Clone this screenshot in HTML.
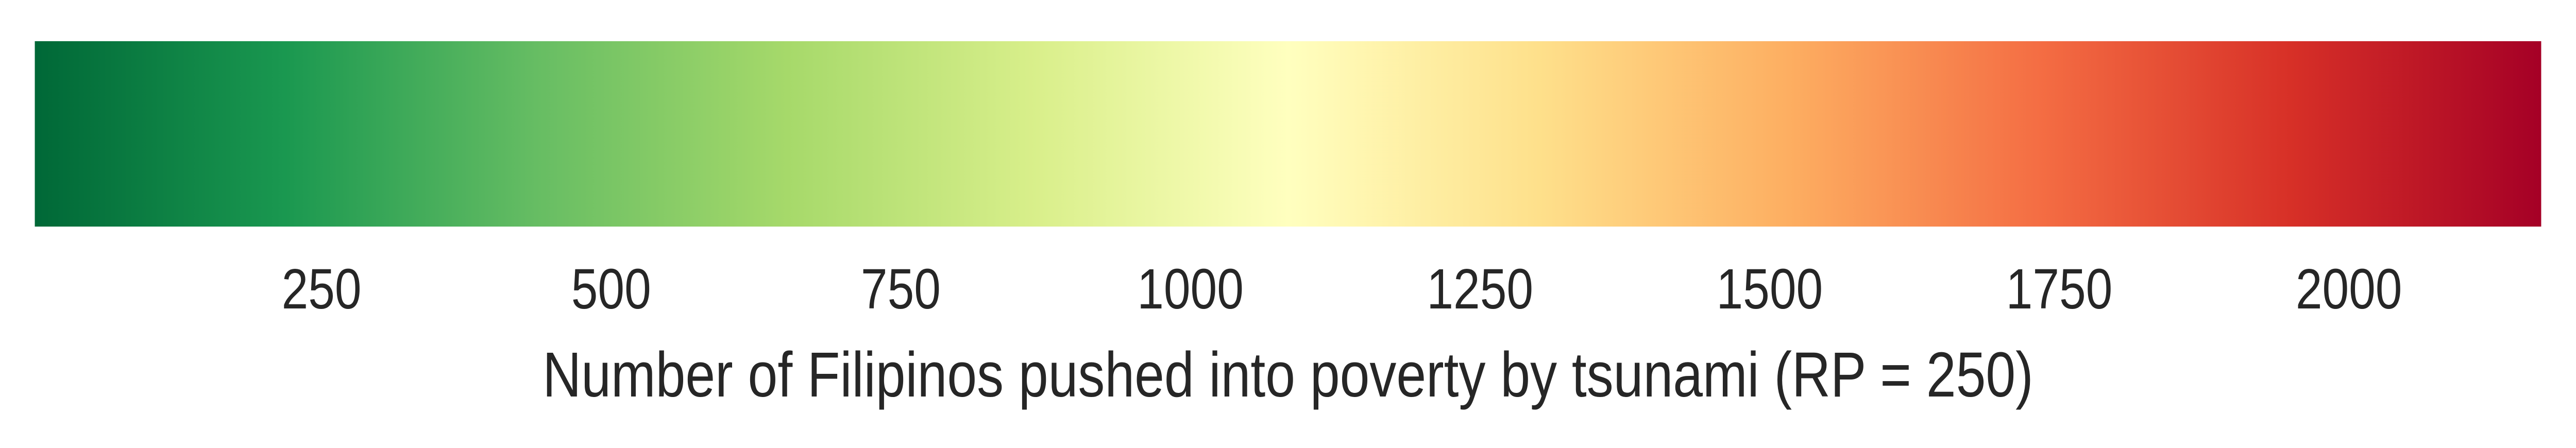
<!DOCTYPE html>
<html><head><meta charset="utf-8"><style>
html,body{margin:0;padding:0;background:#fff;width:100%;height:100%;overflow:hidden}
svg{display:block;width:100vw;height:100vh}
text{font-family:"Liberation Sans",Arial,sans-serif;fill:#262626}
</style></head><body>
<svg id="chart" viewBox="0 0 5920 870" preserveAspectRatio="none" xmlns="http://www.w3.org/2000/svg">
<defs><linearGradient id="cmap" x1="0" x2="1" y1="0" y2="0"></linearGradient></defs>
<rect id="bar" x="80" y="80" width="5760" height="360" fill="url(#cmap)"/>
<g id="ticks"></g>
<text x="2960" y="770" font-size="123" text-anchor="middle">Number of Filipinos pushed into poverty by tsunami (RP = 250)</text>
</svg>
<script>
const vmin = 2.5;
const vmax = 2166;
const tickValues = [250, 500, 750, 1000, 1250, 1500, 1750, 2000];
const tickLabels = ["250", "500", "750", "1000", "1250", "1500", "1750", "2000"];
const cmapColors = ["#006837","#1a9850","#66bd63","#a6d96a","#d9ef8b","#ffffbf","#fee08b","#fdae61","#f46d43","#d73027","#a50026"];

const X0 = 80, X1 = 5840;
function xScale(v){ return X0 + (v - vmin) / (vmax - vmin) * (X1 - X0); }
const ns = "http://www.w3.org/2000/svg";
const grad = document.getElementById('cmap');
cmapColors.forEach((c, i) => {
  const s = document.createElementNS(ns, 'stop');
  s.setAttribute('offset', (i / (cmapColors.length - 1)).toString());
  s.setAttribute('stop-color', c);
  grad.appendChild(s);
});
const g = document.getElementById('ticks');
tickValues.forEach((v, i) => {
  const t = document.createElementNS(ns, 'text');
  
  
  t.setAttribute('x', xScale(v));
  t.setAttribute('y', 599);
  t.setAttribute('font-size', '110');
  t.setAttribute('text-anchor', 'middle');
  t.textContent = tickLabels[i];
  g.appendChild(t);
});
</script>
</body></html>
